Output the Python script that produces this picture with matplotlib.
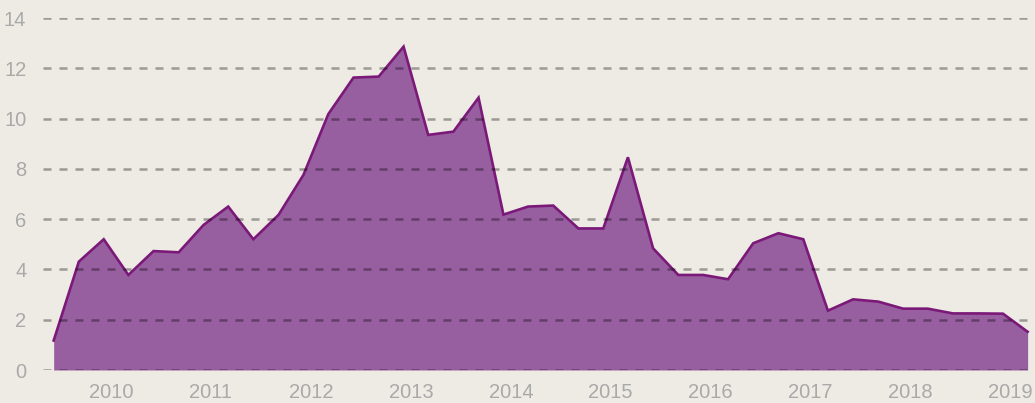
import matplotlib
matplotlib.use("Agg")
import matplotlib.pyplot as plt
import matplotlib.dates as mdates
import pandas as pd
import numpy as np

# Quarterly observations, Jun 2009 .. Mar 2019
dates = pd.date_range("2009-06-01", periods=40, freq="3MS") + pd.Timedelta(days=4)
values = [1.17, 4.31, 5.20, 3.78, 4.73, 4.68, 5.77, 6.50, 5.20, 6.17,
          7.76, 10.18, 11.63, 11.67, 12.86, 9.35, 9.48, 10.83, 6.18, 6.50,
          6.54, 5.63, 5.63, 8.46, 4.84, 3.78, 3.78, 3.61, 5.04, 5.44,
          5.20, 2.36, 2.81, 2.72, 2.44, 2.44, 2.25, 2.25, 2.24, 1.52]
yticks = [0, 2, 4, 6, 8, 10, 12, 14]
xtick_years = list(range(2010, 2020))

BG = "#EEEBE4"
FILL = "#985FA0"
LINE = "#7B1979"
TXT = "#A9A9A9"

plt.rcParams['font.family'] = ['Liberation Sans', 'DejaVu Sans']

fig = plt.figure(figsize=(10.35, 4.03), dpi=100, facecolor=BG)
ax = fig.add_axes([43/1035, 33/403, (1032-43)/1035, (370-18)/403])
ax.set_facecolor(BG)

x = mdates.date2num(dates.to_pydatetime())
ax.fill_between(x, 0, values, color=FILL, linewidth=0, zorder=1)
ax.plot(x, values, color=LINE, linewidth=1.9, zorder=2, solid_joinstyle='miter')

ax.set_ylim(0, 14)
ax.set_yticks(yticks)
ax.set_xlim(mdates.date2num(pd.Timestamp("2009-04-27")), mdates.date2num(pd.Timestamp("2019-03-21")))
ax.set_xticks([mdates.date2num(pd.Timestamp(f"{y}-01-01")) for y in xtick_years])
ax.set_xticklabels([str(y) for y in xtick_years])

for yv in yticks:
    ax.axhline(yv, color="black", alpha=0.35, linewidth=1.8, dashes=(3.2, 3.2), zorder=3)

for s in ax.spines.values():
    s.set_visible(False)
ax.tick_params(axis='both', length=0, labelsize=14.5, labelcolor=TXT)
ax.tick_params(axis='y', pad=12)
ax.tick_params(axis='x', pad=9)
ax.grid(False)

fig.savefig("out.png", dpi=100, facecolor=BG)
